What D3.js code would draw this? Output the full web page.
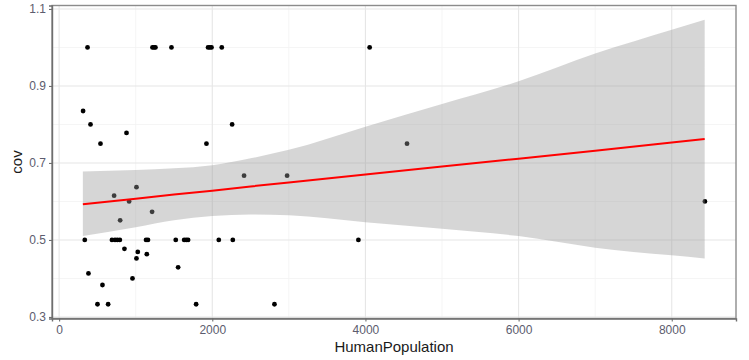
<!DOCTYPE html>
<html lang="en">
<head>
  <meta charset="UTF-8">
  <title>cov vs HumanPopulation</title>
  <script src="https://cdn.jsdelivr.net/npm/d3@7"></script>
  <style>
  body { margin: 0; background: #fff; }
  svg text { font-family: "Liberation Sans", Arial, sans-serif; }
  .tick-label { fill: #5c5c6e; font-size: 12px; }
  .axis-title { fill: #1a1a1a; font-size: 15px; }
  </style>
</head>
<body>
  <svg id="chart" width="749" height="360"></svg>
  <script>
  // Points
  const humanPop = [371, 1219, 1240, 1258, 1467, 1945, 1968, 1990, 2124, 4055,
    313, 410, 540, 880, 2259, 1924, 4543,
    718, 1010, 914, 797, 1214, 2415, 2977, 8433,
    335, 690, 730, 760, 793, 1135, 1160, 1523, 1633, 1660, 1684, 2085, 2268, 3908,
    853, 1027, 1010, 1145, 1554, 383, 958, 566, 501, 640, 1789, 2812];
  const cov = [1, 1, 1, 1, 1, 1, 1, 1, 1, 1,
    0.835, 0.8, 0.75, 0.778, 0.8, 0.75, 0.75,
    0.615, 0.637, 0.6, 0.551, 0.573, 0.667, 0.667, 0.6,
    0.5, 0.5, 0.5, 0.5, 0.5, 0.5, 0.5, 0.5, 0.5, 0.5, 0.5, 0.5, 0.5, 0.5,
    0.477, 0.469, 0.452, 0.463, 0.429, 0.413, 0.4, 0.383, 0.333, 0.333, 0.333, 0.333];

  // Fitted line and confidence band, read at a few x positions
  const bandX = [310, 1000, 1500, 2000, 2500, 3000, 4000, 5000, 6000, 7000, 8000, 8430];
  const fitY = [0.593, 0.607, 0.618, 0.628, 0.639, 0.649, 0.670, 0.691, 0.711, 0.732, 0.753, 0.762];
  const upperY = [0.678, 0.682, 0.686, 0.694, 0.712, 0.734, 0.794, 0.853, 0.912, 0.984, 1.046, 1.072];
  const lowerY = [0.510, 0.533, 0.551, 0.562, 0.566, 0.564, 0.546, 0.529, 0.510, 0.480, 0.460, 0.452];

  const xTicks = [0, 2000, 4000, 6000, 8000];
  const xMinor = [1000, 3000, 5000, 7000];
  const yTicks = [0.3, 0.5, 0.7, 0.9, 1.1];
  const yMinor = [0.4, 0.6, 0.8, 1.0];

  const svg = d3.select('#chart');
  const pLeft = 52, pRight = 736, pTop = 5.5, pBottom = 318.5;

  const x = d3.scaleLinear().domain([-93, 8839]).range([pLeft, pRight]);
  const y = d3.scaleLinear().domain([0.296, 1.109]).range([pBottom, pTop]);

  // grid
  const grid = svg.append('g');
  grid.selectAll('.vminor').data(xMinor).enter().append('line')
    .attr('x1', d => x(d)).attr('x2', d => x(d)).attr('y1', pTop).attr('y2', pBottom)
    .attr('stroke', '#f2f2f2').attr('stroke-width', 0.8);
  grid.selectAll('.hminor').data(yMinor).enter().append('line')
    .attr('x1', pLeft).attr('x2', pRight).attr('y1', d => y(d)).attr('y2', d => y(d))
    .attr('stroke', '#f2f2f2').attr('stroke-width', 0.8);
  grid.selectAll('.vmajor').data(xTicks).enter().append('line')
    .attr('x1', d => x(d)).attr('x2', d => x(d)).attr('y1', pTop).attr('y2', pBottom)
    .attr('stroke', '#e6e6e6').attr('stroke-width', 1.1);
  grid.selectAll('.hmajor').data(yTicks).enter().append('line')
    .attr('x1', pLeft).attr('x2', pRight).attr('y1', d => y(d)).attr('y2', d => y(d))
    .attr('stroke', '#e6e6e6').attr('stroke-width', 1.1);

  // points (ribbon goes over them, like ggplot)
  svg.append('g').selectAll('circle')
    .data(humanPop.map((v, i) => [v, cov[i]]))
    .enter().append('circle')
      .attr('cx', d => x(d[0])).attr('cy', d => y(d[1]))
      .attr('r', 2.4).attr('fill', '#000');

  const band = bandX.map((v, i) => ({x: v, fit: fitY[i], lo: lowerY[i], hi: upperY[i]}));
  svg.append('path')
    .datum(band)
    .attr('d', d3.area().x(d => x(d.x)).y0(d => y(d.lo)).y1(d => y(d.hi)).curve(d3.curveMonotoneX))
    .attr('fill', '#999999').attr('fill-opacity', 0.4);
  svg.append('path')
    .datum(band)
    .attr('d', d3.line().x(d => x(d.x)).y(d => y(d.fit)))
    .attr('fill', 'none').attr('stroke', '#ff0000').attr('stroke-width', 2);

  // panel border
  svg.append('rect')
    .attr('x', pLeft).attr('y', pTop).attr('width', pRight - pLeft).attr('height', pBottom - pTop)
    .attr('fill', 'none').attr('stroke', '#8c8c8c').attr('stroke-width', 1.4);

  // axes
  const xAxis = d3.axisBottom(x).tickValues(xTicks).tickSize(3).tickPadding(4).tickFormat(d3.format('d'));
  const yAxis = d3.axisLeft(y).tickValues(yTicks).tickSize(3).tickPadding(3).tickFormat(d3.format('.1f'));
  const gx = svg.append('g').attr('transform', `translate(0,${pBottom})`).call(xAxis);
  const gy = svg.append('g').attr('transform', `translate(${pLeft},0)`).call(yAxis);
  [gx, gy].forEach(g => {
    g.select('.domain').attr('stroke', '#6e6e6e').attr('stroke-width', 1.4);
    g.selectAll('.tick line').attr('stroke', '#6e6e6e').attr('stroke-width', 1.1);
    g.selectAll('.tick text').attr('class', 'tick-label');
  });
  gx.attr('font-family', null).attr('font-size', null);
  gy.attr('font-family', null).attr('font-size', null);

  svg.append('text').attr('class', 'axis-title')
    .attr('x', (pLeft + pRight) / 2).attr('y', 352)
    .attr('text-anchor', 'middle').text('HumanPopulation');
  svg.append('text').attr('class', 'axis-title')
    .attr('transform', `translate(22,${(pTop + pBottom) / 2}) rotate(-90)`)
    .attr('text-anchor', 'middle').text('cov');
  </script>
</body>
</html>
